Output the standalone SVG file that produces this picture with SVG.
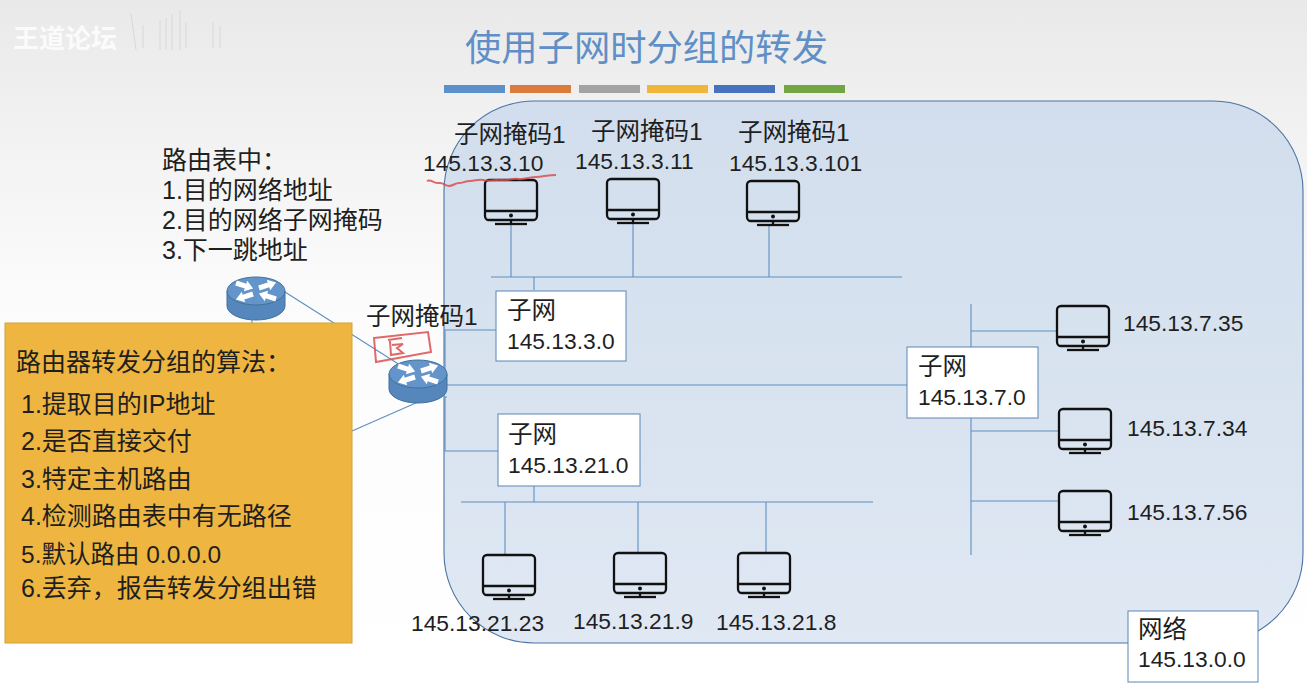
<svg xmlns="http://www.w3.org/2000/svg" width="1307" height="697" viewBox="0 0 1307 697">
<style>
text{font-family:"Liberation Sans","Noto Sans CJK SC",sans-serif;fill:#1f1f1f;font-size:22.800px}
.c{font-size:24.500px}
.l{font-size:25px}
.conn line,.conn path{stroke:#5f8fc0;stroke-width:1.100;fill:none}
.box{fill:#fff;stroke:#5b86b5;stroke-width:1}
.mon{fill:none;stroke:#111;stroke-width:2.300}
.red{fill:none;stroke:#d9504f;stroke-width:2;opacity:.85}
.w{fill:#fff;stroke:none}
</style>
<defs>
<linearGradient id="bg" x1="0" y1="0" x2="0" y2="1"><stop offset="0" stop-color="#e9e9e9"/><stop offset=".15" stop-color="#f0f0f0"/><stop offset=".45" stop-color="#fcfcfc"/><stop offset="1" stop-color="#fff"/></linearGradient>
<linearGradient id="net" x1="0" y1="0" x2="0" y2="1"><stop offset="0" stop-color="#d2deed"/><stop offset="1" stop-color="#dfe8f3"/></linearGradient>
<path id="arrow" class="w" d="M0-2.500H10V-5.500L18 0L10 5.500V2.500H0Z"/>
<g id="monitor">
<rect class="mon" x="-26" y="0" width="52" height="40" rx="4"/>
<line class="mon" x1="-26" y1="31" x2="26" y2="31"/>
<circle cx="0" cy="35.500" r="2" fill="#111"/>
<line class="mon" x1="0" y1="40" x2="0" y2="44"/>
<line class="mon" x1="-16" y1="44" x2="16" y2="44"/>
</g>
<g id="router">
<path d="M-29 0V15A29 14 0 0 0 29 15V0Z" fill="#5587bd" stroke="#41719c"/>
<ellipse cx="0" cy="0" rx="29" ry="14" fill="#6394ca" stroke="#41719c"/>
<use href="#arrow" transform="translate(-20,-8) rotate(18)"/>
<use href="#arrow" transform="translate(3,-3) rotate(-18)"/>
<use href="#arrow" transform="translate(-3,3) rotate(162)"/>
<use href="#arrow" transform="translate(20,8) rotate(198)"/>
</g>
</defs>
<rect width="1307" height="697" fill="url(#bg)"/>
<text x="13" y="48" style="fill:#fff;font-size:26px;font-weight:bold" opacity=".8">王道论坛</text>
<path d="M131 14L136 50M143 25V48M160 20V50M166 18V50M172 14V50M180 10V50M186 22V48M213 22V48M220 26V48" stroke="#d8d8d8" stroke-width="1" fill="none"/>
<text x="465" y="61" style="fill:#5f8fc6;font-size:36.300px">使用子网时分组的转发</text>
<g id="title-bars">
<rect x="444" y="85" width="61" height="8" fill="#5b90cb"/>
<rect x="510" y="85" width="61" height="8" fill="#dc7c3c"/>
<rect x="579" y="85" width="61" height="8" fill="#a3a3a3"/>
<rect x="647" y="85" width="61" height="8" fill="#f0b53b"/>
<rect x="714" y="85" width="61" height="8" fill="#4772bd"/>
<rect x="784" y="85" width="61" height="8" fill="#72a645"/>
</g>
<rect id="network-area" x="444" y="101" width="859" height="542" rx="90" fill="url(#net)" stroke="#4a74a3" stroke-width="1.100"/>
<g id="router-table-note">
<text class="l" x="162" y="169">路由表中：</text>
<text class="l" x="162" y="199">1.目的网络地址</text>
<text class="l" x="162" y="229">2.目的网络子网掩码</text>
<text class="l" x="162" y="259">3.下一跳地址</text>
</g>
<g class="conn">
<line x1="285" y1="292" x2="400" y2="365"/>
<line x1="252" y1="320" x2="252" y2="324"/>
<line x1="418" y1="402" x2="352" y2="431"/>
<line x1="447" y1="385" x2="907" y2="385"/>
<path d="M447 375H445V330H496"/>
<path d="M447 397H445V451H498"/>
<line x1="491" y1="277" x2="902" y2="277"/>
<line x1="511" y1="224" x2="511" y2="277"/>
<line x1="633" y1="223" x2="633" y2="277"/>
<line x1="769" y1="225" x2="769" y2="277"/>
<line x1="534" y1="277" x2="534" y2="290"/>
<line x1="461" y1="502" x2="873" y2="502"/>
<line x1="534" y1="486" x2="534" y2="502"/>
<line x1="505" y1="502" x2="505" y2="555"/>
<line x1="638" y1="502" x2="638" y2="553"/>
<line x1="766" y1="502" x2="766" y2="553"/>
<line x1="971" y1="304" x2="971" y2="555"/>
<line x1="971" y1="331" x2="1057" y2="331"/>
<line x1="971" y1="431" x2="1058" y2="431"/>
<line x1="971" y1="501" x2="1058" y2="501"/>
</g>
<g id="router-a"><use href="#router" x="256" y="291"/></g>
<g id="router-b"><use href="#router" x="418" y="374"/></g>
<g id="algorithm">
<rect x="5" y="323" width="347" height="320" fill="#eeb640" stroke="#d2a237"/>
<text class="l" x="16" y="371">路由器转发分组的算法：</text>
<text class="l" x="21" y="413">1.提取目的IP地址</text>
<text class="l" x="21" y="450">2.是否直接交付</text>
<text class="l" x="21" y="488">3.特定主机路由</text>
<text class="l" x="21" y="525">4.检测路由表中有无路径</text>
<text class="c" x="21" y="563">5.默认路由 0.0.0.0</text>
<text class="l" x="21" y="597">6.丢弃，报告转发分组出错</text>
</g>
<g id="mask-router"><text class="c" x="366" y="325">子网掩码1</text></g>
<g id="host-1"><use href="#monitor" x="511" y="180"/><text class="c" x="454" y="143">子网掩码1</text><text x="423" y="171">145.13.3.10</text></g>
<g id="host-2"><use href="#monitor" x="633" y="179"/><text class="c" x="591" y="140">子网掩码1</text><text x="575" y="169">145.13.3.11</text></g>
<g id="host-3"><use href="#monitor" x="773" y="181"/><text class="c" x="738" y="141">子网掩码1</text><text x="729" y="171">145.13.3.101</text></g>
<g id="host-4"><use href="#monitor" x="1083" y="306"/><text x="1123" y="331">145.13.7.35</text></g>
<g id="host-5"><use href="#monitor" x="1085" y="409"/><text x="1127" y="436">145.13.7.34</text></g>
<g id="host-6"><use href="#monitor" x="1085" y="491"/><text x="1127" y="520">145.13.7.56</text></g>
<g id="host-7"><use href="#monitor" x="509" y="555"/><text x="411" y="631">145.13.21.23</text></g>
<g id="host-8"><use href="#monitor" x="640" y="553"/><text x="573" y="629">145.13.21.9</text></g>
<g id="host-9"><use href="#monitor" x="764" y="553"/><text x="716" y="630">145.13.21.8</text></g>
<g id="subnet-3"><rect class="box" x="496" y="291" width="130" height="70"/><text class="c" x="507" y="319">子网</text><text x="507" y="349">145.13.3.0</text></g>
<g id="subnet-21"><rect class="box" x="498" y="414" width="142" height="72"/><text class="c" x="508" y="443">子网</text><text x="508" y="473">145.13.21.0</text></g>
<g id="subnet-7"><rect class="box" x="907" y="347" width="131" height="71"/><text class="c" x="918" y="375">子网</text><text x="918" y="405">145.13.7.0</text></g>
<g id="network-label"><rect class="box" x="1128" y="611" width="130" height="71"/><text class="c" x="1138" y="638">网络</text><text x="1138" y="667">145.13.0.0</text></g>
<g id="annotations">
<path class="red" d="M427 181C431 179 435 184 439 183C443 182 445 186 449 186C453 186 455 183 459 183C463 183 465 181 470 181C475 181 478 179 483 180C490 182 495 179 502 180C508 181 512 178 518 179C524 180 530 177 536 177C542 177 548 175 556 175"/>
<path class="red" d="M374 338L428 332L431 352L376 362ZM388 340L402 338M390 341L391 355L403 353L397 348L403 344L392 345"/>
</g>
</svg>
